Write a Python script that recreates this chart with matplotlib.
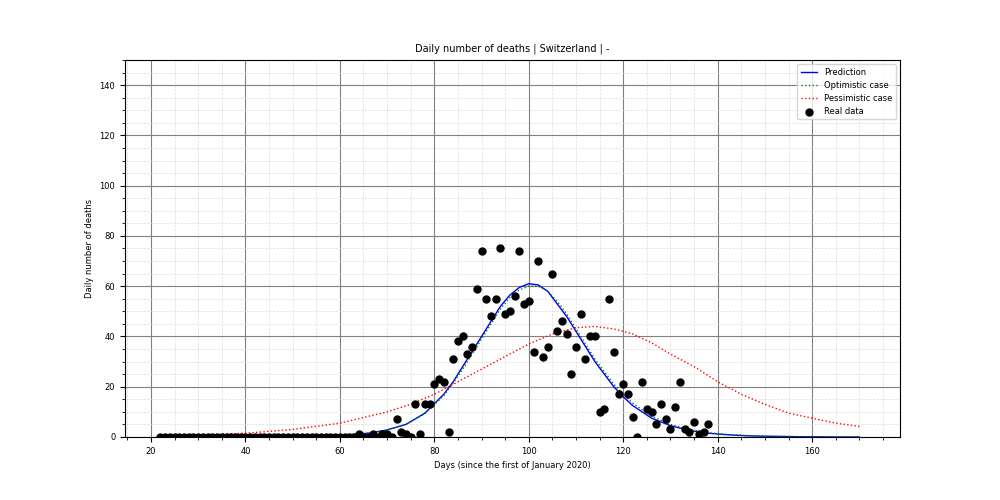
import matplotlib
matplotlib.use("Agg")
import matplotlib.pyplot as plt
from matplotlib.ticker import MultipleLocator

real_days = list(range(22, 139))
real_vals = [0]*42 + [1,0,0,1,0,1,1,0,7,2,1,0,13,1,13,13,21,23,22,2,31,38,40,33,36,59,74,55,48,55,75,49,50,56,74,53,54,34,70,32,36,65,42,46,41,25,36,49,31,40,40,10,11,55,34,17,21,17,8,0,22,11,10,5,13,7,3,12,22,3,2,6,1,2,5]

pred_days = [22,26,30,34,38,42,46,50,54,58,62,66,70,74,78,82,84,86,88,90,92,94,96,98,100,102,104,106,108,110,112,114,116,118,120,122,126,130,134,138,142,146,150,154,158,162,166,170]
pred_vals = [0,0,0,0,0,0.1,0.1,0.2,0.3,0.5,0.9,1.5,2.8,5,9.5,17,22,28,34,40,46,52,56.5,59.5,61,60.5,58,53,48,42,36,30,25,20,16,12.5,7.5,4.5,2.6,1.5,0.9,0.5,0.3,0.2,0.1,0.05,0,0]
opt_vals = [0,0,0,0,0,0.1,0.1,0.2,0.3,0.5,0.9,1.5,2.8,5,9.3,16.5,21.5,27,33,39,45,51,55.5,58.5,60,60,58,54,49,43,37,31,26,21,17,13.5,8.2,5,2.9,1.7,1,0.6,0.35,0.2,0.1,0.05,0,0]

pess_days = [22,30,40,50,60,70,75,80,85,90,95,100,105,110,114,118,122,126,130,135,140,145,150,155,160,165,170]
pess_vals = [0.3,0.7,1.5,3,5.5,10,13,17,22,27,32,37,41,43.5,44,43,41,37.5,33,28,22,17,13,9.5,7.5,5.5,4.2]

fig = plt.figure(figsize=(10, 5), dpi=100)
ax = fig.add_axes([0.125, 0.126, 0.775, 0.754])
ax.plot(pred_days, pred_vals, color="blue", lw=1, label="Prediction")
ax.plot(pred_days, opt_vals, color="green", lw=1, ls=":", label="Optimistic case")
ax.plot(pess_days, pess_vals, color="red", lw=1, ls=":", label="Pessimistic case")
ax.scatter(real_days, real_vals, color="black", s=25, zorder=3, label="Real data")
ax.set_xlim(14.5, 178.6)
ax.set_ylim(0, 150)
ax.xaxis.set_major_locator(MultipleLocator(20))
ax.yaxis.set_major_locator(MultipleLocator(20))
ax.xaxis.set_minor_locator(MultipleLocator(5))
ax.yaxis.set_minor_locator(MultipleLocator(5))
ax.grid(which="major", color="gray", lw=0.8)
ax.grid(which="minor", color="#dddddd", lw=0.5, ls="--")
ax.tick_params(labelsize=6)
ax.set_title("Daily number of deaths | Switzerland | -", fontsize=7)
ax.set_xlabel("Days (since the first of January 2020)", fontsize=6)
ax.set_ylabel("Daily number of deaths", fontsize=6)
ax.legend(loc="upper right", fontsize=6)
fig.savefig("out.png")
